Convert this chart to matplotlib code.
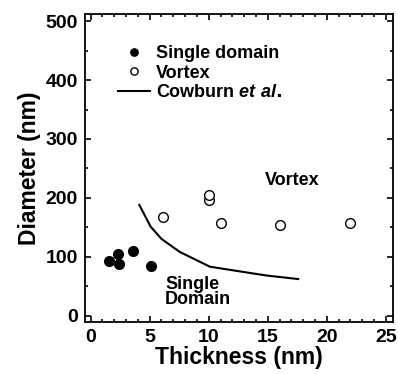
import matplotlib.pyplot as plt
from matplotlib.ticker import MultipleLocator

plt.rcParams["font.family"] = ["Liberation Sans", "DejaVu Sans"]
plt.rcParams["font.weight"] = "bold"
plt.rcParams["mathtext.fontset"] = "custom"
plt.rcParams["mathtext.it"] = "Liberation Sans:italic:bold"

# single domain (filled circles)
sd_thick = [1.55, 2.34, 2.42, 3.58, 5.08]
sd_diam = [93, 104, 88, 109, 85]

# vortex (open circles)
vx_thick = [6.1, 10.0, 10.0, 11.0, 16.0, 22.0]
vx_diam = [168, 197, 204, 157, 154, 157]

# Cowburn et al. boundary
cb_thick = [4.12, 5.08, 6.01, 7.56, 10.1, 12.64, 14.9, 17.58]
cb_diam = [188, 151, 130, 108, 83, 75, 68, 62]

fig = plt.figure(figsize=(3.98, 3.74), dpi=100)
ax = fig.add_axes([0.213, 0.139, 0.774, 0.823])

ax.plot(sd_thick, sd_diam, "o", color="black", markersize=7, label="Single domain")
ax.plot(vx_thick, vx_diam, "o", markerfacecolor="white", markeredgecolor="black",
        markeredgewidth=1.0, markersize=7, label="Vortex")
ax.plot(cb_thick, cb_diam, "-", color="black", linewidth=1.5, label=r"Cowburn $et\ al.$")

ax.text(17.1, 229, "Vortex", fontsize=13, fontweight="bold", ha="center", va="center")
ax.text(6.3, 40, "Single\nDomain", fontsize=13, fontweight="bold", ha="left",
        va="center", linespacing=0.9)

ax.set_xlim(-0.5, 25.6)
ax.set_ylim(-11, 512)
ax.xaxis.set_major_locator(MultipleLocator(5))
ax.xaxis.set_minor_locator(MultipleLocator(1))
ax.yaxis.set_major_locator(MultipleLocator(100))
ax.yaxis.set_minor_locator(MultipleLocator(50))
ax.tick_params(which="both", direction="in", top=True, right=True, width=1.2)
ax.tick_params(which="major", length=4.5, labelsize=14, pad=5)
ax.tick_params(which="minor", length=2.5)
for s in ax.spines.values():
    s.set_linewidth(1.3)

ax.set_xlabel("Thickness (nm)", fontsize=16.5, fontweight="bold", labelpad=0)
ax.set_ylabel("Diameter (nm)", fontsize=16.5, fontweight="bold", labelpad=3)

ax.legend(loc="upper left", bbox_to_anchor=(0.107, 0.9), frameon=False, fontsize=13,
          markerscale=0.75, handlelength=1.8, handletextpad=0.3, labelspacing=0.14,
          borderaxespad=0, borderpad=0)

fig.savefig("out.png", dpi=100)
